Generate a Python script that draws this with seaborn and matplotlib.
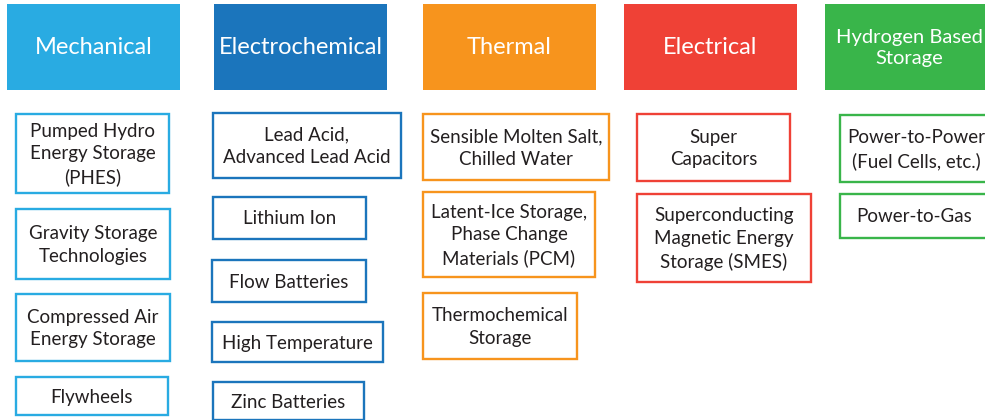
"""Energy storage technology taxonomy diagram."""

import matplotlib.pyplot as plt
import seaborn as sns
from matplotlib.patches import Rectangle

# ---------------------------------------------------------------------------
# Data
# ---------------------------------------------------------------------------
categories = ["Mechanical", "Electrochemical", "Thermal", "Electrical",
              "Hydrogen Based\nStorage"]
mechanical = ["Pumped Hydro\nEnergy Storage\n(PHES)",
              "Gravity Storage\nTechnologies",
              "Compressed Air\nEnergy Storage",
              "Flywheels"]
electrochemical = ["Lead Acid,\nAdvanced Lead Acid", "Lithium Ion",
                   "Flow Batteries", "High Temperature", "Zinc Batteries"]
thermal = ["Sensible Molten Salt,\nChilled Water",
           "Latent-Ice Storage,\nPhase Change\nMaterials (PCM)",
           "Thermochemical\nStorage"]
electrical = ["Super\nCapacitors",
              "Superconducting\nMagnetic Energy\nStorage (SMES)"]
hydrogen = ["Power-to-Power\n(Fuel Cells, etc.)", "Power-to-Gas"]

# ---------------------------------------------------------------------------
# Layout (pixel coordinates, y downwards)
# ---------------------------------------------------------------------------
colors = ["#29ABE2", "#1B75BC", "#F7941D", "#EF4136", "#39B54A"]
header_left = [7, 214, 423, 624, 825]
header_width = 173
header_top, header_bottom = 4, 90

# (left, right) per column, (top, bottom) per item
item_x = [
    [(16, 169), (16, 170), (16, 170), (16, 168)],
    [(213, 401), (213, 366), (212, 366), (212, 383), (213, 364)],
    [(423, 609), (423, 595), (423, 577)],
    [(637, 790), (637, 811)],
    [(840, 992), (840, 988)],
]
item_y = [
    [(114, 193), (209, 279), (294, 361), (377, 415)],
    [(113, 178), (197, 239), (260, 302), (322, 362), (382, 420)],
    [(114, 180), (192, 277), (293, 359)],
    [(114, 181), (194, 282)],
    [(115, 182), (194, 238)],
]
columns = [mechanical, electrochemical, thermal, electrical, hydrogen]

sns.set_theme(style="white")
plt.rcParams["font.family"] = ["Lato", "DejaVu Sans"]

fig = plt.figure(figsize=(9.85, 4.2), dpi=100)
ax = fig.add_axes([0, 0, 1, 1])
ax.set_xlim(0, 985)
ax.set_ylim(420, 0)
ax.axis("off")

for i, (name, color) in enumerate(zip(categories, colors)):
    x0 = header_left[i]
    two_lines = "\n" in name
    cx = x0 + header_width / 2 - (2 if two_lines else 0)
    ax.text(cx, (header_top + header_bottom) / 2 + (1 if two_lines else 0),
            name, color="white", fontsize=14.5 if two_lines else 17,
            ha="center", va="center", linespacing=1.35, zorder=3)
    ax.add_patch(Rectangle((x0, header_top), header_width,
                           header_bottom - header_top,
                           facecolor=color, edgecolor="none"))

    for label, (xl, xr), (yt, yb) in zip(columns[i], item_x[i], item_y[i]):
        ax.add_patch(Rectangle((xl, yt), xr - xl, yb - yt,
                               facecolor="white", edgecolor=color,
                               linewidth=1.7))
        ax.text((xl + xr) / 2, (yt + yb) / 2 + 1, label, color="#231F20",
                fontsize=13.5, ha="center", va="center", linespacing=1.4)

fig.savefig("out.png", dpi=100)
plt.close(fig)
